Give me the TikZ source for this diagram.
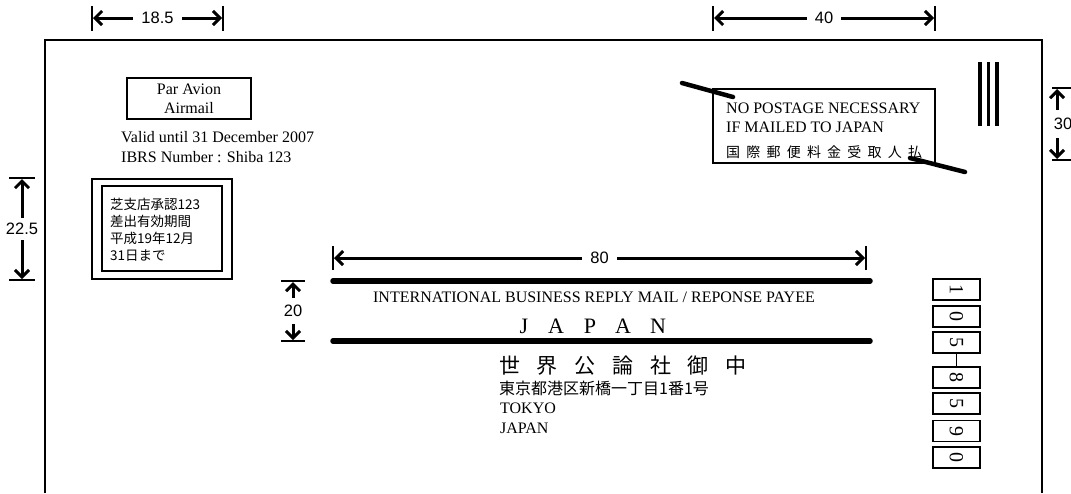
\documentclass[tikz,border=0pt]{standalone}
\usepackage{fontspec}
\setmainfont{Liberation Serif}
\newfontfamily\dimfont{Liberation Sans}
\newfontfamily\jpfont{Noto Sans CJK JP}
\usetikzlibrary{arrows.meta}

\begin{document}
\begin{tikzpicture}[x=1pt, y=-1pt,
    dim/.style={line width=3pt, {Straight Barb[length=7pt,width=14pt]}-{Straight Barb[length=7pt,width=14pt]}},
    dimtick/.style={line width=1.8pt},
    dimlabel/.style={fill=white, inner xsep=8pt, inner ysep=2pt, font=\dimfont\fontsize{16.5}{16.5}\selectfont},
    txt/.style={inner sep=0pt, font=\fontsize{16}{19}\selectfont},
    jp/.style={inner sep=0pt, font=\jpfont\fontsize{13.5}{16.7}\selectfont},
    bar/.style={line width=5.5pt, line cap=round},
    zip/.style={draw, line width=1.6pt, minimum width=47pt, minimum height=21pt, inner sep=0pt, font=\fontsize{20}{20}\selectfont}]
    \useasboundingbox (0, 0) rectangle (1071, 493);
    % envelope outline
    \draw[line width=1.8pt] (45, 493) -- (45, 40) -- (1042, 40) -- (1042, 493);
    % dimensions
    \draw[dimtick] (92, 6) -- (92, 31);
    \draw[dimtick] (223, 6) -- (223, 31);
    \coordinate (l185) at (93, 18);
    \coordinate (r185) at (222, 18);
    \draw[dim] (l185) -- node[dimlabel] (d185) {18.5} (r185);
    \draw[dimtick] (713, 6) -- (713, 31);
    \draw[dimtick] (935, 6) -- (935, 31);
    \coordinate (l40) at (714, 18);
    \coordinate (r40) at (934, 18);
    \draw[dim] (l40) -- node[dimlabel] (d40) {40} (r40);
    \draw[dimtick] (9, 178) -- (35, 178);
    \draw[dimtick] (9, 280) -- (35, 280);
    \coordinate (t225) at (22, 179);
    \coordinate (b225) at (22, 279);
    \draw[dim] (t225) -- node[dimlabel, inner xsep=1pt, inner ysep=5pt] (d225) {22.5} (b225);
    \draw[dimtick] (281, 281) -- (305, 281);
    \draw[dimtick] (281, 341) -- (305, 341);
    \coordinate (t20) at (293, 282);
    \coordinate (b20) at (293, 340);
    \draw[dim] (t20) -- node[dimlabel, inner xsep=1pt, inner ysep=7pt] (d20) {20} (b20);
    \draw[dimtick] (1052, 88) -- (1075, 88);
    \draw[dimtick] (1052, 160) -- (1075, 160);
    \coordinate (t30) at (1057, 89);
    \coordinate (b30) at (1057, 159);
    \draw[dim] (t30) -- node[dimlabel, inner xsep=1pt, inner ysep=8pt, xshift=6pt] (d30) {30} (b30);
    \draw[dimtick] (333, 246) -- (333, 270);
    \draw[dimtick] (866, 246) -- (866, 270);
    \coordinate (l80) at (334, 258);
    \coordinate (r80) at (865, 258);
    \draw[dim] (l80) -- node[dimlabel] (d80) {80} (r80);
    % airmail and validity
    \node[draw, line width=1.2pt, txt, align=center, minimum width=124pt, minimum height=41pt] (avion) at (189, 98.5) {Par Avion\\Airmail};
    \node[txt, anchor=base west] (valid) at (121, 142) {Valid until 31 December 2007};
    \node[txt, anchor=base west] (ibrs) at (121, 162) {IBRS Number : Shiba 123};
    % permit box
    \node[draw, line width=1.2pt, minimum width=140pt, minimum height=100pt] (permit) at (162, 229) {};
    \node[draw, line width=2pt, minimum width=120pt, minimum height=85pt] (permitin) at (162, 228.5) {};
    \node[jp, anchor=base west, align=left] (permittxt) at (110, 260) {芝支店承認123\\差出有効期間\\平成19年12月\\31日まで};
    % postage box
    \node[draw, line width=1.2pt, minimum width=222pt, minimum height=74pt] (nopost) at (824, 126) {};
    \node[txt, anchor=base west] (np1) at (726, 113) {NO POSTAGE NECESSARY};
    \node[txt, anchor=base west] (np2) at (726, 132) {IF MAILED TO JAPAN};
    \foreach \c [count=\i] in {国,際,郵,便,料,金,受,取,人,払}
        \node[jp, font=\jpfont\fontsize{14}{14}\selectfont, anchor=base west] at (726 + 20.2*\i - 20.2, 157) {\c};
    \draw[line width=4.5pt, line cap=round] (682, 83) -- (733, 97);
    \draw[line width=4.5pt, line cap=round] (910, 158) -- (965, 172);
    % facing marks
    \foreach \x in {980, 988.5, 997}
        \draw[line width=3.5pt] (\x, 62) -- (\x, 126);
    % address bars
    \draw[bar] (333, 281) -- (870, 281);
    \draw[bar] (333, 341) -- (870, 341);
    \node[txt, anchor=base] (ibrm) at (594, 302) {INTERNATIONAL BUSINESS REPLY MAIL / REPONSE PAYEE};
    \foreach \c/\x in {J/524, A/556, P/590, A/623, N/658}
        \node[inner sep=0pt, font=\fontsize{22}{22}\selectfont, anchor=base] at (\x, 333) {\c};
    % addressee
    \foreach \c [count=\i] in {世,界,公,論,社,御,中}
        \node[inner sep=0pt, font=\jpfont\fontsize{21}{21}\selectfont, anchor=base west] at (499 + 37.7*\i - 37.7, 373.5) {\c};
    \node[jp, font=\jpfont\fontsize{16}{16}\selectfont, anchor=base west] (addr) at (499, 394) {東京都港区新橋一丁目1番1号};
    \node[txt, anchor=base west] (tokyo) at (500, 413) {TOKYO};
    \node[txt, anchor=base west] (japan) at (500, 433) {JAPAN};
    % postal code
    \foreach \d/\y [count=\i] in {1/289.5, 0/316.5, 5/342.5, 8/377.5, 5/403.5, 9/431, 0/457.5}
        \node[zip] (z\i) at (956.5, \y) {\rotatebox{-90}{\d}};
    \draw[line width=1.6pt] (z3) -- (z4);
\end{tikzpicture}
\end{document}
